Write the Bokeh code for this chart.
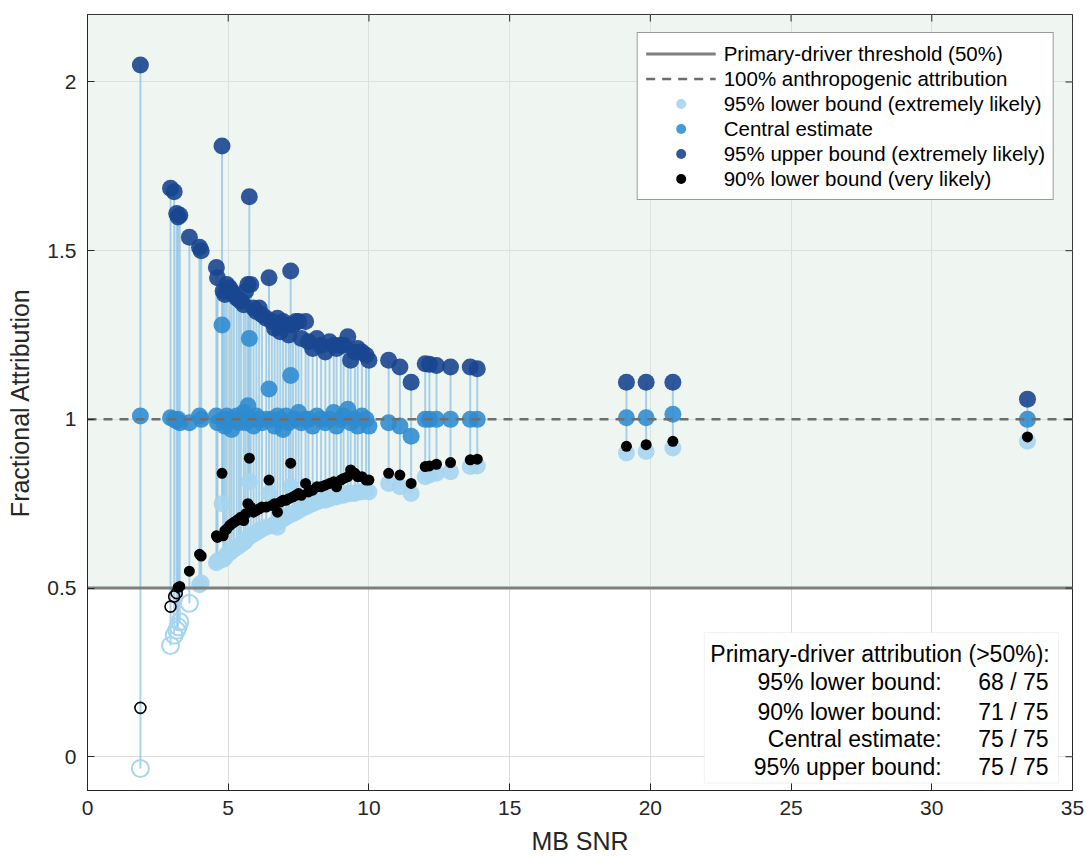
import numpy as np
from bokeh.plotting import figure
from bokeh.embed import file_html
from bokeh.resources import INLINE
from bokeh.models import (Legend, LegendItem, BoxAnnotation, Label,
                          FixedTicker, CustomJSTickFormatter, Range1d)

# ---------------- data ----------------
snr = [1.88, 2.95, 3.08, 3.17, 3.22, 3.28, 3.62, 3.98, 4.04,
       4.58, 4.62, 4.78, 4.82, 4.88, 4.95, 5.05, 5.12, 5.20, 5.30,
       5.38, 5.45, 5.55, 5.62, 5.70, 5.75, 5.80, 5.90, 6.00, 6.10,
       6.20, 6.35, 6.45, 6.55, 6.65, 6.75, 6.85, 6.95, 7.05, 7.15,
       7.22, 7.30, 7.40, 7.50, 7.60, 7.75, 7.85, 8.00, 8.15, 8.30,
       8.45, 8.60, 8.75, 8.85, 9.00, 9.10, 9.25, 9.35, 9.50, 9.60,
       9.75, 9.90, 10.00,
       10.70, 11.10, 11.50, 12.00, 12.15, 12.40, 12.90, 13.60, 13.85,
       19.15, 19.85, 20.80, 33.40]
upper95 = [2.05, 1.685, 1.675, 1.61, 1.60, 1.605, 1.54, 1.51, 1.50,
           1.45, 1.42, 1.81, 1.38, 1.37, 1.40, 1.39, 1.38, 1.37, 1.36,
           1.355, 1.35, 1.34, 1.38, 1.40, 1.66, 1.40, 1.33, 1.32, 1.33,
           1.31, 1.30, 1.42, 1.29, 1.27, 1.30, 1.26, 1.29, 1.28, 1.25,
           1.44, 1.28, 1.29, 1.29, 1.24, 1.29, 1.23, 1.21, 1.24, 1.22,
           1.20, 1.23, 1.22, 1.21, 1.22, 1.22, 1.245, 1.175, 1.20, 1.21,
           1.20, 1.19, 1.175,
           1.175, 1.155, 1.11, 1.165, 1.163, 1.16, 1.155, 1.155, 1.15,
           1.11, 1.11, 1.11, 1.06]
central = [1.01, 1.005, 1.00, 0.995, 1.00, 0.99, 0.99, 1.01, 1.00,
           1.01, 0.99, 1.28, 1.00, 0.98, 1.01, 1.00, 0.97, 1.00, 1.01,
           0.99, 1.00, 1.02, 0.99, 1.04, 1.24, 1.00, 0.98, 1.01, 1.00,
           0.99, 1.00, 1.09, 1.00, 0.98, 1.01, 1.00, 0.97, 1.01, 0.99,
           1.13, 1.00, 1.00, 1.02, 0.99, 1.00, 1.00, 0.98, 1.01, 1.00,
           0.99, 1.00, 1.02, 0.98, 1.00, 1.01, 1.03, 0.99, 1.00, 0.98,
           1.01, 1.00, 0.98,
           0.99, 0.98, 0.95, 1.00, 1.00, 1.00, 1.00, 1.00, 1.00,
           1.005, 1.005, 1.015, 1.00]
lower95 = [-0.035, 0.33, 0.36, 0.375, 0.385, 0.40, 0.455, 0.51, 0.515,
           0.575, 0.58, 0.75, 0.585, 0.59, 0.60, 0.605, 0.61, 0.615, 0.62,
           0.625, 0.63, 0.635, 0.64, 0.65, 0.815, 0.655, 0.66, 0.665, 0.67,
           0.675, 0.68, 0.78, 0.685, 0.69, 0.68, 0.70, 0.705, 0.71, 0.715,
           0.80, 0.72, 0.725, 0.73, 0.735, 0.74, 0.745, 0.75, 0.755, 0.76,
           0.76, 0.765, 0.77, 0.77, 0.775, 0.775, 0.78, 0.78, 0.78, 0.785,
           0.785, 0.79, 0.785,
           0.81, 0.80, 0.78, 0.83, 0.835, 0.84, 0.845, 0.86, 0.862,
           0.90, 0.905, 0.915, 0.935]
lower90 = [0.145, 0.445, 0.475, 0.485, 0.502, 0.505, 0.55, 0.60, 0.595,
           0.655, 0.65, 0.84, 0.655, 0.67, 0.675, 0.685, 0.69, 0.695, 0.70,
           0.705, 0.71, 0.70, 0.72, 0.75, 0.885, 0.74, 0.725, 0.73, 0.735,
           0.74, 0.74, 0.82, 0.745, 0.75, 0.725, 0.755, 0.76, 0.76, 0.765,
           0.87, 0.77, 0.775, 0.78, 0.775, 0.81, 0.785, 0.79, 0.80, 0.80,
           0.805, 0.81, 0.815, 0.80, 0.82, 0.825, 0.83, 0.85, 0.84, 0.83,
           0.83, 0.82, 0.82,
           0.84, 0.835, 0.81, 0.86, 0.862, 0.867, 0.872, 0.88, 0.882,
           0.92, 0.925, 0.935, 0.948]

THRESHOLD = 0.5
FULL = 1.0
x_lim = [0, 35]
y_lim = [-0.1, 2.2]
x_ticks = [0, 5, 10, 15, 20, 25, 30, 35]
y_ticks = [0, 0.5, 1, 1.5, 2]

summary_title = "Primary-driver attribution (>50%):"
summary_labels = ["95% lower bound:", "90% lower bound:", "Central estimate:", "95% upper bound:"]
summary_values = ["68 / 75", "71 / 75", "75 / 75", "75 / 75"]

# ---------------- styles ----------------
FONT = "Liberation Sans"
C_LOW95 = "#a6d5f0"
C_CEN = "#2f8bcf"
C_UP = "#1a4690"
C_STEM = "#80bce4"
TXT = "#262626"
FRAME_W, FRAME_H = 985, 776
TICK_PX = 7

x = np.array(snr)
l95 = np.array(lower95)
l90 = np.array(lower90)

p = figure(frame_width=FRAME_W, frame_height=FRAME_H,
           x_range=Range1d(*x_lim), y_range=Range1d(*y_lim),
           output_backend="svg", toolbar_location=None,
           min_border_left=87, min_border_right=14, min_border_top=14, min_border_bottom=66)
p.background_fill_color = "white"
p.border_fill_color = "white"
p.outline_line_color = TXT
p.outline_line_width = 1

# shaded region above threshold
p.add_layout(BoxAnnotation(bottom=THRESHOLD, fill_color="#d9eadd", fill_alpha=0.42,
                           line_color=None, level="underlay"))

for g in (p.xgrid, p.ygrid):
    g.grid_line_color = "#dcdcdc"
    g.grid_line_width = 1
p.xgrid.ticker = FixedTicker(ticks=x_ticks)
p.ygrid.ticker = FixedTicker(ticks=y_ticks)

# stems
p.segment(x0=x, y0=l95, x1=x, y1=np.array(upper95), line_color=C_STEM,
          line_width=2, line_alpha=0.65)

# lower 95
m = l95 >= THRESHOLD
r_l95 = p.scatter(x[m], l95[m], size=17, fill_color=C_LOW95, line_color=None, fill_alpha=0.9)
p.scatter(x[~m], l95[~m], size=17, fill_color=None, line_color=C_LOW95, line_width=2)
# central
r_cen = p.scatter(x, central, size=17, fill_color=C_CEN, line_color=None, fill_alpha=0.88)
# upper 95
r_up = p.scatter(x, upper95, size=17, fill_color=C_UP, line_color=None, fill_alpha=0.9)

# reference lines
r_thr = p.line(x_lim, [THRESHOLD, THRESHOLD], line_color="#7f7f7f", line_width=3)
r_full = p.line(x_lim, [FULL, FULL], line_color="#6e6e6e", line_width=2.5, line_dash="9 7")

# lower 90
m2 = l90 >= THRESHOLD
r_l90 = p.scatter(x[m2], l90[m2], size=11, fill_color="black", line_color=None)
p.scatter(x[~m2], l90[~m2], size=11, fill_color=None, line_color="black", line_width=1.6)

# inward ticks on the top and right edges of the box
dy = TICK_PX * (y_lim[1] - y_lim[0]) / FRAME_H
dx = TICK_PX * (x_lim[1] - x_lim[0]) / FRAME_W
xt = np.array(x_ticks, dtype=float)
yt = np.array(y_ticks, dtype=float)
p.segment(x0=xt, y0=np.full_like(xt, y_lim[1]), x1=xt, y1=np.full_like(xt, y_lim[1] - dy),
          line_color=TXT, line_width=1)
p.segment(x0=np.full_like(yt, x_lim[1]), y0=yt, x1=np.full_like(yt, x_lim[1] - dx), y1=yt,
          line_color=TXT, line_width=1)

# axes
fmt = CustomJSTickFormatter(code="return tick.toString();")
p.xaxis.ticker = FixedTicker(ticks=x_ticks)
p.yaxis.ticker = FixedTicker(ticks=y_ticks)
p.yaxis.formatter = fmt
p.xaxis.axis_label = "MB SNR"
p.yaxis.axis_label = "Fractional Attribution"
for ax in (p.xaxis[0], p.yaxis[0]):
    ax.major_label_text_font = FONT
    ax.major_label_text_font_size = "21px"
    ax.major_label_text_color = TXT
    ax.axis_label_text_font = FONT
    ax.axis_label_text_font_size = "25px"
    ax.axis_label_text_font_style = "normal"
    ax.axis_label_text_color = TXT
    ax.axis_line_color = TXT
    ax.major_tick_line_color = TXT
    ax.major_tick_in = TICK_PX
    ax.major_tick_out = 0
    ax.minor_tick_line_color = None
p.xaxis.major_label_standoff = 10
p.xaxis.axis_label_standoff = 9
p.yaxis.major_label_standoff = 11
p.yaxis.axis_label_standoff = 10

# legend
legend = Legend(items=[
    LegendItem(label="Primary-driver threshold (50%)", renderers=[r_thr]),
    LegendItem(label="100% anthropogenic attribution", renderers=[r_full]),
    LegendItem(label="95% lower bound (extremely likely)", renderers=[r_l95]),
    LegendItem(label="Central estimate", renderers=[r_cen]),
    LegendItem(label="95% upper bound (extremely likely)", renderers=[r_up]),
    LegendItem(label="90% lower bound (very likely)", renderers=[r_l90]),
], location="top_right")
legend.label_text_font = FONT
legend.label_text_font_size = "20.5px"
legend.label_text_color = "black"
legend.border_line_color = "#333333"
legend.border_line_width = 1
legend.background_fill_color = "white"
legend.background_fill_alpha = 1
legend.margin = 18
legend.padding = 8
legend.spacing = 0
legend.glyph_width = 70
legend.glyph_height = 25
legend.label_height = 25
legend.label_standoff = 8
p.add_layout(legend)

# summary box
p.add_layout(BoxAnnotation(left=21.92, right=34.5, bottom=-0.078, top=0.368,
                           fill_color="white", fill_alpha=1, line_color="#cfcfcf",
                           line_width=1, level="annotation"))
p.add_layout(Label(x=34.19, y=0.306, text=summary_title, text_align="right",
                   text_baseline="middle", text_font=FONT, text_font_size="23px",
                   text_color="black"))
row_y = [0.223, 0.134, 0.053, -0.030]
for yy, lab, val in zip(row_y, summary_labels, summary_values):
    p.add_layout(Label(x=30.35, y=yy, text=lab, text_align="right", text_baseline="middle",
                       text_font=FONT, text_font_size="23px", text_color="black"))
    p.add_layout(Label(x=34.15, y=yy, text=val, text_align="right", text_baseline="middle",
                       text_font=FONT, text_font_size="23px", text_color="black"))

open("out.html", "w").write(file_html(p, INLINE))
